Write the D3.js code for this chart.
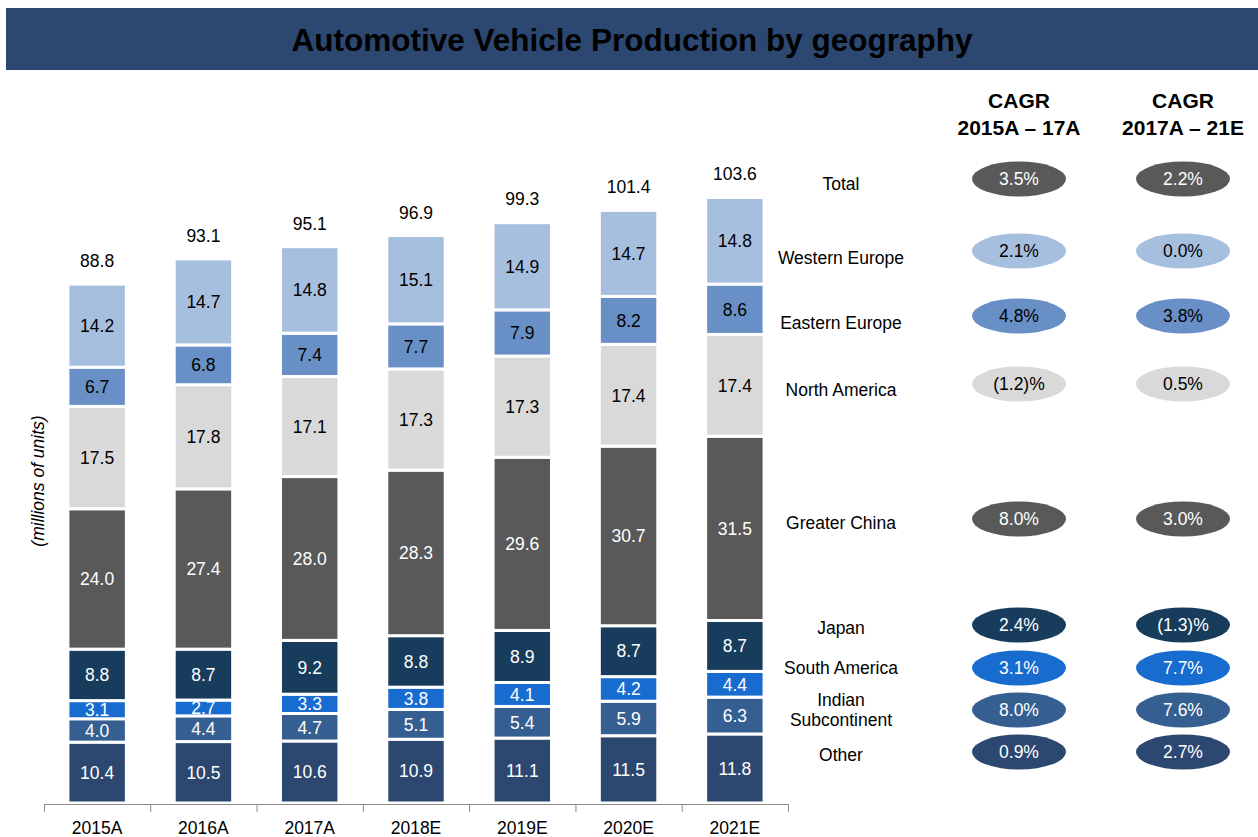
<!DOCTYPE html>
<html>
<head>
<meta charset="utf-8">
<script src="https://cdn.jsdelivr.net/npm/d3@7"></script>
<style>
  body { margin: 0; background: #fff; }
  text { font-family: "Liberation Sans", Arial, sans-serif; }
</style>
</head>
<body>
<svg id="chart" width="1258" height="837"></svg>
<script>
// data
var years = ["2015A", "2016A", "2017A", "2018E", "2019E", "2020E", "2021E"];
var regions = ["Other", "Indian Subcontinent", "South America", "Japan",
               "Greater China", "North America", "Eastern Europe", "Western Europe"];
var other      = [10.4, 10.5, 10.6, 10.9, 11.1, 11.5, 11.8];
var indian     = [4.0, 4.4, 4.7, 5.1, 5.4, 5.9, 6.3];
var southAm    = [3.1, 2.7, 3.3, 3.8, 4.1, 4.2, 4.4];
var japan      = [8.8, 8.7, 9.2, 8.8, 8.9, 8.7, 8.7];
var china      = [24.0, 27.4, 28.0, 28.3, 29.6, 30.7, 31.5];
var northAm    = [17.5, 17.8, 17.1, 17.3, 17.3, 17.4, 17.4];
var eastEurope = [6.7, 6.8, 7.4, 7.7, 7.9, 8.2, 8.6];
var westEurope = [14.2, 14.7, 14.8, 15.1, 14.9, 14.7, 14.8];
var totals     = [88.8, 93.1, 95.1, 96.9, 99.3, 101.4, 103.6];

var legendRows = ["Total", "Western Europe", "Eastern Europe", "North America",
                  "Greater China", "Japan", "South America", "Indian\nSubcontinent", "Other"];
var cagr1517 = ["3.5%", "2.1%", "4.8%", "(1.2)%", "8.0%", "2.4%", "3.1%", "8.0%", "0.9%"];
var cagr1721 = ["2.2%", "0.0%", "3.8%", "0.5%", "3.0%", "(1.3)%", "7.7%", "7.6%", "2.7%"];

var series = [other, indian, southAm, japan, china, northAm, eastEurope, westEurope];

// styles
var colors = {
  "Other": "#2c4870",
  "Indian Subcontinent": "#365f91",
  "South America": "#186ccf",
  "Japan": "#173c5c",
  "Greater China": "#595959",
  "North America": "#d9d9d9",
  "Eastern Europe": "#6890c6",
  "Western Europe": "#a7bfdf",
  "Total": "#595959"
};
var darkText = {"North America": 1, "Eastern Europe": 1, "Western Europe": 1};
var fs = 17.5;

var svg = d3.select("#chart");

// title band
svg.append("rect").attr("x", 6).attr("y", 8).attr("width", 1252).attr("height", 62)
  .attr("fill", "#2c4870");
svg.append("text").attr("x", 632).attr("y", 40).attr("dy", "0.36em").attr("text-anchor", "middle")
  .attr("font-size", 31.5).attr("font-weight", "bold").attr("fill", "#000")
  .text("Automotive Vehicle Production by geography");

// scales
var x = d3.scaleBand().domain(years).range([44, 788]).paddingInner(0.45).paddingOuter(0.225);
var y = d3.scaleLinear().domain([0, 100]).range([803, 218]);

// stack
var rows = years.map(function(yr, i) {
  var r = {year: yr};
  regions.forEach(function(reg, k) { r[reg] = series[k][i]; });
  return r;
});
var stacked = d3.stack().keys(regions)(rows);

var layer = svg.append("g").selectAll("g")
  .data(stacked).enter().append("g")
  .attr("fill", function(d) { return colors[d.key]; });

layer.selectAll("rect")
  .data(function(d) { return d; })
  .enter().append("rect")
  .attr("x", function(d) { return x(d.data.year); })
  .attr("width", x.bandwidth())
  .attr("y", function(d) { return y(d[1]); })
  .attr("height", function(d) { return y(d[0]) - y(d[1]); })
  .attr("stroke", "#fff").attr("stroke-width", 3);

layer.selectAll("text")
  .data(function(d) { return d.map(function(p) { p.key = d.key; return p; }); })
  .enter().append("text")
  .attr("x", function(d) { return x(d.data.year) + x.bandwidth() / 2; })
  .attr("y", function(d) { return (y(d[0]) + y(d[1])) / 2; })
  .attr("dy", "0.36em")
  .attr("text-anchor", "middle").attr("font-size", fs)
  .attr("fill", function(d) { return darkText[d.key] ? "#000" : "#fff"; })
  .text(function(d) { return d.data[d.key].toFixed(1); });

// totals
svg.append("g").selectAll("text").data(totals).enter().append("text")
  .attr("x", function(d, i) { return x(years[i]) + x.bandwidth() / 2; })
  .attr("y", function(d) { return y(d) - 23; })
  .attr("dy", "0.36em")
  .attr("text-anchor", "middle").attr("font-size", fs).attr("fill", "#000")
  .text(function(d) { return d.toFixed(1); });

// x axis
var band = x.step();
var axisG = svg.append("g").attr("stroke", "#8c8c8c").attr("stroke-width", 1);
axisG.append("line").attr("x1", 44).attr("x2", 788).attr("y1", 804.5).attr("y2", 804.5);
axisG.selectAll(".tick").data(d3.range(years.length + 1)).enter().append("line")
  .attr("x1", function(i) { return 44.5 + i * band; })
  .attr("x2", function(i) { return 44.5 + i * band; })
  .attr("y1", 804).attr("y2", 812);
svg.append("g").selectAll("text").data(years).enter().append("text")
  .attr("x", function(d) { return x(d) + x.bandwidth() / 2; })
  .attr("y", 828).attr("dy", "0.36em").attr("text-anchor", "middle").attr("font-size", fs).attr("fill", "#000")
  .text(function(d) { return d; });

// y axis label
svg.append("text").attr("transform", "translate(38,481) rotate(-90)")
  .attr("dy", "0.36em")
  .attr("text-anchor", "middle").attr("font-size", fs).attr("font-style", "italic")
  .text("(millions of units)");

// legend and CAGR ovals
var labelY = [184, 258, 323, 390, 523, 628, 668, 710, 755];
var ovalY  = [179, 251, 316, 384, 519, 625, 668, 710, 752];
var legendKeys = ["Total", "Western Europe", "Eastern Europe", "North America",
                  "Greater China", "Japan", "South America", "Indian Subcontinent", "Other"];

var leg = svg.append("g").selectAll("text").data(legendRows).enter().append("text")
  .attr("x", 841).attr("text-anchor", "middle").attr("font-size", fs).attr("fill", "#000");
leg.each(function(d, i) {
  var lines = d.split("\n");
  var t = d3.select(this);
  lines.forEach(function(line, j) {
    t.append("tspan").attr("x", 841)
      .attr("y", labelY[i] + (j - (lines.length - 1) / 2) * 20)
      .attr("dy", "0.36em").text(line);
  });
});

[["CAGR", "2015A \u2013 17A", 1019], ["CAGR", "2017A \u2013 21E", 1183]].forEach(function(h) {
  svg.append("text").attr("x", h[2]).attr("y", 100).attr("dy", "0.36em").attr("text-anchor", "middle")
    .attr("font-size", 21).attr("font-weight", "bold").text(h[0]);
  svg.append("text").attr("x", h[2]).attr("y", 127).attr("dy", "0.36em").attr("text-anchor", "middle")
    .attr("font-size", 21).attr("font-weight", "bold").text(h[1]);
});

function ovalColumn(vals, cx) {
  var g = svg.append("g");
  g.selectAll("ellipse").data(vals).enter().append("ellipse")
    .attr("cx", cx).attr("cy", function(d, i) { return ovalY[i]; })
    .attr("rx", 47).attr("ry", 17.5)
    .attr("fill", function(d, i) { return colors[legendKeys[i]]; });
  g.selectAll("text").data(vals).enter().append("text")
    .attr("x", cx).attr("y", function(d, i) { return ovalY[i]; })
    .attr("dy", "0.36em").attr("text-anchor", "middle").attr("font-size", fs)
    .attr("fill", function(d, i) { return darkText[legendKeys[i]] ? "#000" : "#fff"; })
    .text(function(d) { return d; });
}
ovalColumn(cagr1517, 1019);
ovalColumn(cagr1721, 1183);
</script>
</body>
</html>
